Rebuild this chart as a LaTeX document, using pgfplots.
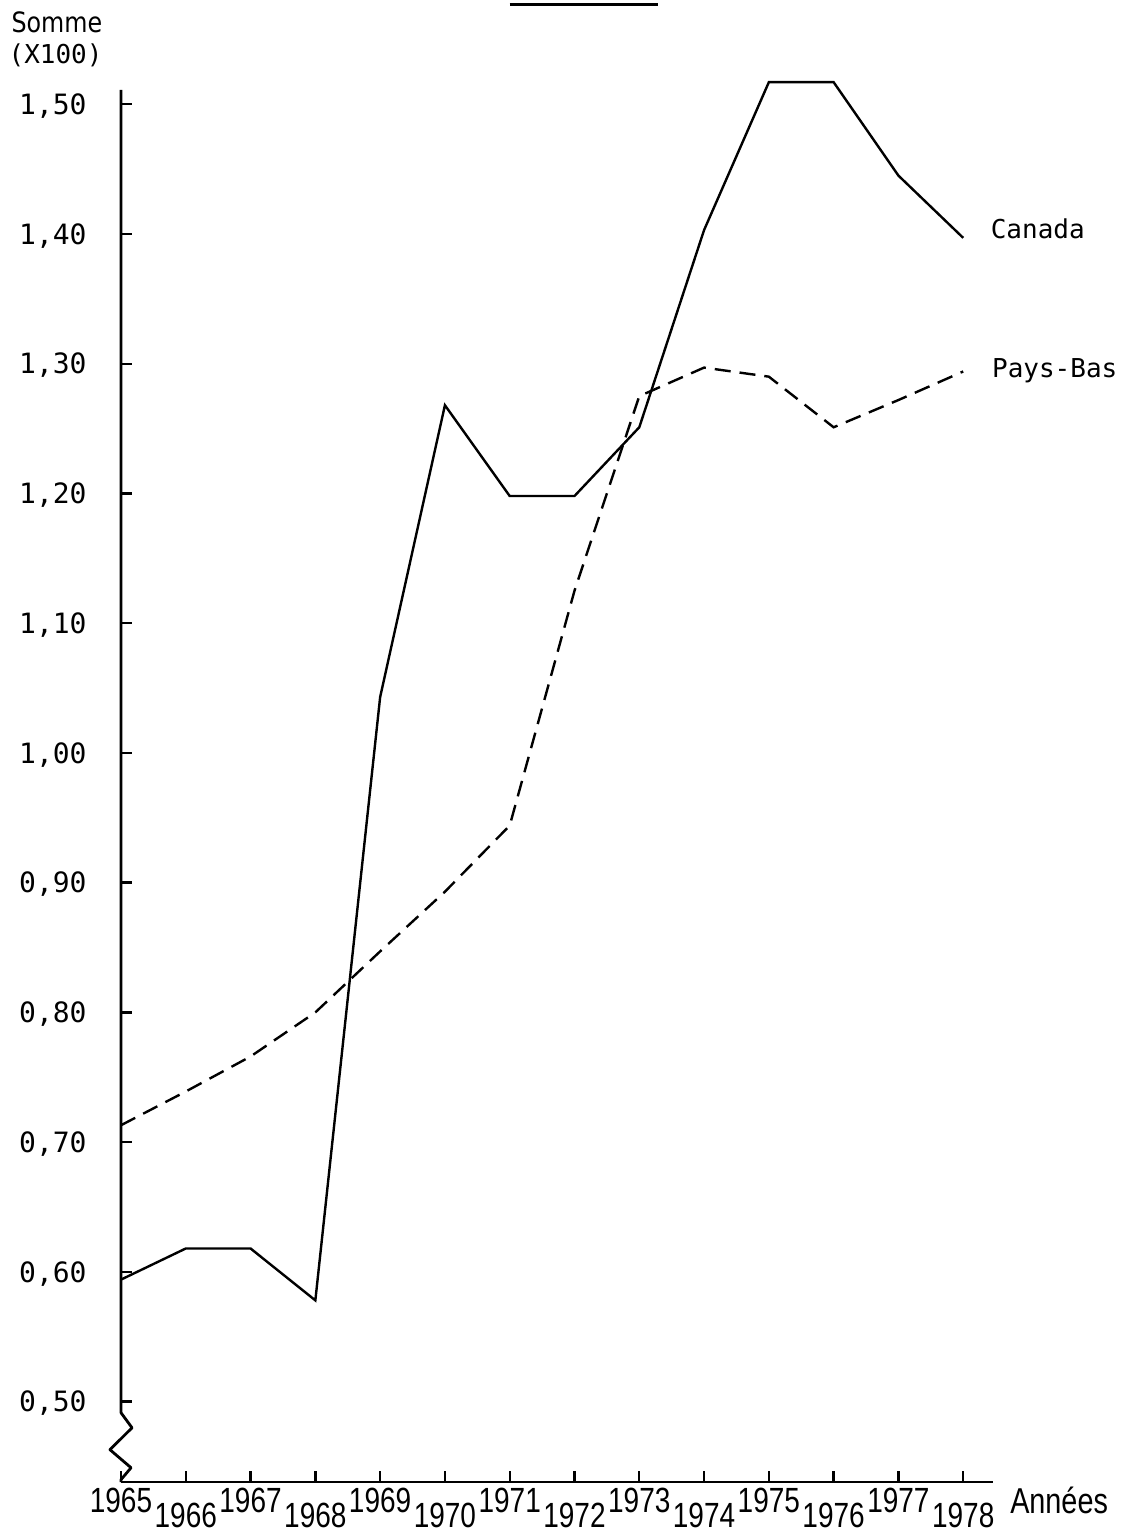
\documentclass[border=0pt]{standalone}
\usepackage{fontspec}
\setmainfont{DejaVu Sans Mono}
\newfontfamily\yearfont[FakeStretch=0.8]{Liberation Sans}
\newfontfamily\tallfont[FakeStretch=0.85]{DejaVu Sans}
\usepackage{pgfplots}
\usepackage{pgfplotstable}
\pgfplotsset{compat=1.18}

% valeurs (somme x100)
\pgfplotstableread{
annee canada paysbas
1965 0.594 0.713
1966 0.618 0.739
1967 0.618 0.766
1968 0.578 0.800
1969 1.043 0.847
1970 1.268 0.893
1971 1.198 0.944
1972 1.198 1.125
1973 1.251 1.275
1974 1.403 1.297
1975 1.517 1.290
1976 1.517 1.251
1977 1.445 1.272
1978 1.397 1.294
}\donnees

\begin{document}
\begin{tikzpicture}
\begin{axis}[
    scale only axis,
    width=436pt, height=696pt,
    xmin=1965, xmax=1978.46,
    ymin=0.438, ymax=1.511,
    axis lines=left,
    axis line style={-, line width=1.4pt},
    y axis line style={draw=none},
    clip=false,
    tick align=inside,
    major tick length=5.5pt,
    every tick/.style={black, line width=1.2pt},
    xtick={1965,1967,...,1977},
    xticklabels={1965,1967,1969,1971,1973,1975,1977},
    extra x ticks={1966,1968,...,1978},
    extra x tick labels={1966,1968,1970,1972,1974,1976,1978},
    extra x tick style={xticklabel style={yshift=-7.5pt}},
    xticklabel style={anchor=north, inner sep=0pt, yshift=-3pt,
        font=\yearfont\fontsize{17.5}{20}\selectfont},
    ytick={0.5,0.6,...,1.51},
    yticklabels={{0,50},{0,60},{0,70},{0,80},{0,90},{1,00},{1,10},{1,20},{1,30},{1,40},{1,50}},
    yticklabel style={anchor=base east, inner sep=0pt, xshift=-17pt, yshift=-5.1pt,
        font=\fontsize{14}{16}\selectfont},
]
\addplot[black, line width=1.2pt] table[x=annee, y=canada] {\donnees};
\addplot[black, line width=1.2pt, dash pattern=on 8pt off 4.5pt] table[x=annee, y=paysbas] {\donnees};

% axe vertical avec coupure
\draw[line width=1.4pt, line join=round] (axis cs:1965,1.511) -- (axis cs:1965,0.4914)
    -- (axis cs:1965.17,0.4798) -- (axis cs:1964.83,0.4629)
    -- (axis cs:1965.155,0.449) -- (axis cs:1965,0.4398) -- (axis cs:1965,0.438);

\node[anchor=base west, inner sep=0pt, font=\fontsize{13}{15}\selectfont] at (axis cs:1978.42,1.3966) {Canada};
\node[anchor=base west, inner sep=0pt, font=\fontsize{13}{15}\selectfont] at (axis cs:1978.44,1.2895) {Pays-Bas};
\node[anchor=base west, inner sep=0pt, font=\yearfont\fontsize{18}{20}\selectfont] at (axis cs:1978.72,0.4136) {Années};
\node[anchor=base, inner sep=0pt, font=\tallfont\fontsize{14}{16}\selectfont] at (axis cs:1964.01,1.5553) {Somme};
\node[anchor=base, inner sep=0pt, font=\fontsize{13}{15}\selectfont] at (axis cs:1963.99,1.5314) {(X100)};

% trait du titre, coupé en haut
\draw[line width=1.5pt] (axis cs:1971.0,1.5769) -- (axis cs:1973.29,1.5769);
\end{axis}
\pgfresetboundingbox
\path[use as bounding box] (-60.5pt,-26pt) rectangle (503.5pt,741pt);
\end{tikzpicture}
\end{document}
